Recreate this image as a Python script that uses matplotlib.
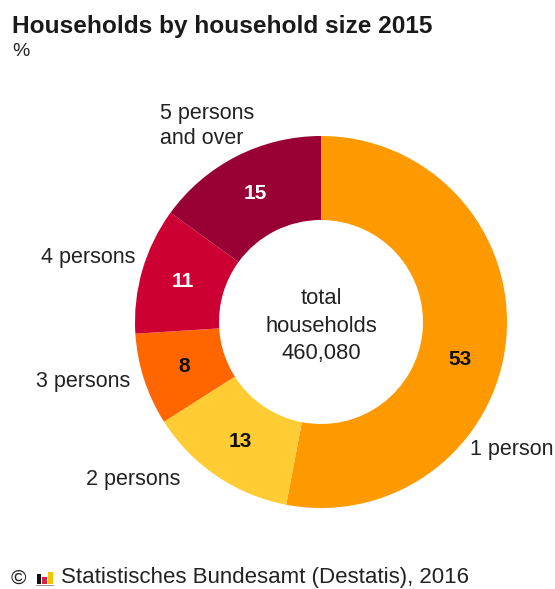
import numpy as np
import matplotlib
matplotlib.use("Agg")
from matplotlib import pyplot as plt
from matplotlib.patches import Rectangle

# share of households by size, in percent
sizes = ["1 person", "2 persons", "3 persons", "4 persons", "5 persons\nand over"]
shares = [53, 13, 8, 11, 15]
colors = ["#FF9900", "#FFCC33", "#FF6600", "#CC0033", "#990033"]
value_colors = ["#111111", "#111111", "#111111", "white", "white"]
total_households = 460080

W, H = 555, 589
plt.rcParams["font.family"] = ["Liberation Sans", "DejaVu Sans"]

fig = plt.figure(figsize=(W / 100, H / 100), dpi=100)
fig.patch.set_facecolor("white")

# axes in pixel units, y pointing up
ax = fig.add_axes([0, 0, 1, 1])
ax.set_xlim(0, W)
ax.set_ylim(0, H)
ax.set_aspect("equal")
ax.axis("off")

cx, cy = 321, H - 322
r_out, r_in = 186, 102

wedges, _ = ax.pie(shares, colors=colors, startangle=90, counterclock=False,
                   radius=r_out, center=(cx, cy),
                   wedgeprops=dict(width=r_out - r_in, linewidth=0))
ax.set_xlim(0, W)
ax.set_ylim(0, H)

# value labels in the middle of the ring
r_mid = (r_out + r_in) / 2
for i, (w, v) in enumerate(zip(wedges, shares)):
    ang = (w.theta1 + w.theta2) / 2
    if i == 0:
        ang -= 9.5
    x = cx + r_mid * np.cos(np.radians(ang))
    y = cy + r_mid * np.sin(np.radians(ang))
    ax.text(x, y, str(v), ha="center", va="center", fontsize=15,
            fontweight="bold", color=value_colors[i])

# category labels outside the ring
label_pos = [(470, 450, "left"), (180, 480, "right"), (130, 382, "right"),
             (135, 258, "right"), (160, 126, "left")]
for name, (x, y, ha) in zip(sizes, label_pos):
    ax.text(x, H - y, name, ha=ha, va="center", fontsize=15.5,
            color="#222222", linespacing=1.25)

ax.text(cx, cy - 4, "total\nhouseholds\n{:,}".format(total_households),
        ha="center", va="center", fontsize=15.8, color="#222222",
        linespacing=1.38)

fig.text(12 / W, 1 - 26 / H, "Households by household size 2015",
         ha="left", va="center", fontsize=17.6, fontweight="bold",
         color="#1a1a1a")
fig.text(12 / W, 1 - 51 / H, "%", ha="left", va="center", fontsize=14,
         color="#222222")

# source line with the small logo
fig.text(11 / W, 1 - 578 / H, "©", ha="left", va="center", fontsize=15,
         color="#222222")
logo = [(37, 574, 4, "#111111"), (42, 577, 5, "#D6204B"), (48, 572, 5, "#F5C400")]
for x0, top, wd, c in logo:
    ax.add_patch(Rectangle((x0, H - 584), wd, 584 - top, color=c, lw=0))
ax.add_patch(Rectangle((36, H - 586), 18, 1.5, color="#999999", lw=0))
fig.text(61 / W, 1 - 578 / H, "Statistisches Bundesamt (Destatis), 2016",
         ha="left", va="center", fontsize=16, color="#222222")

fig.savefig("out.png", dpi=100)
